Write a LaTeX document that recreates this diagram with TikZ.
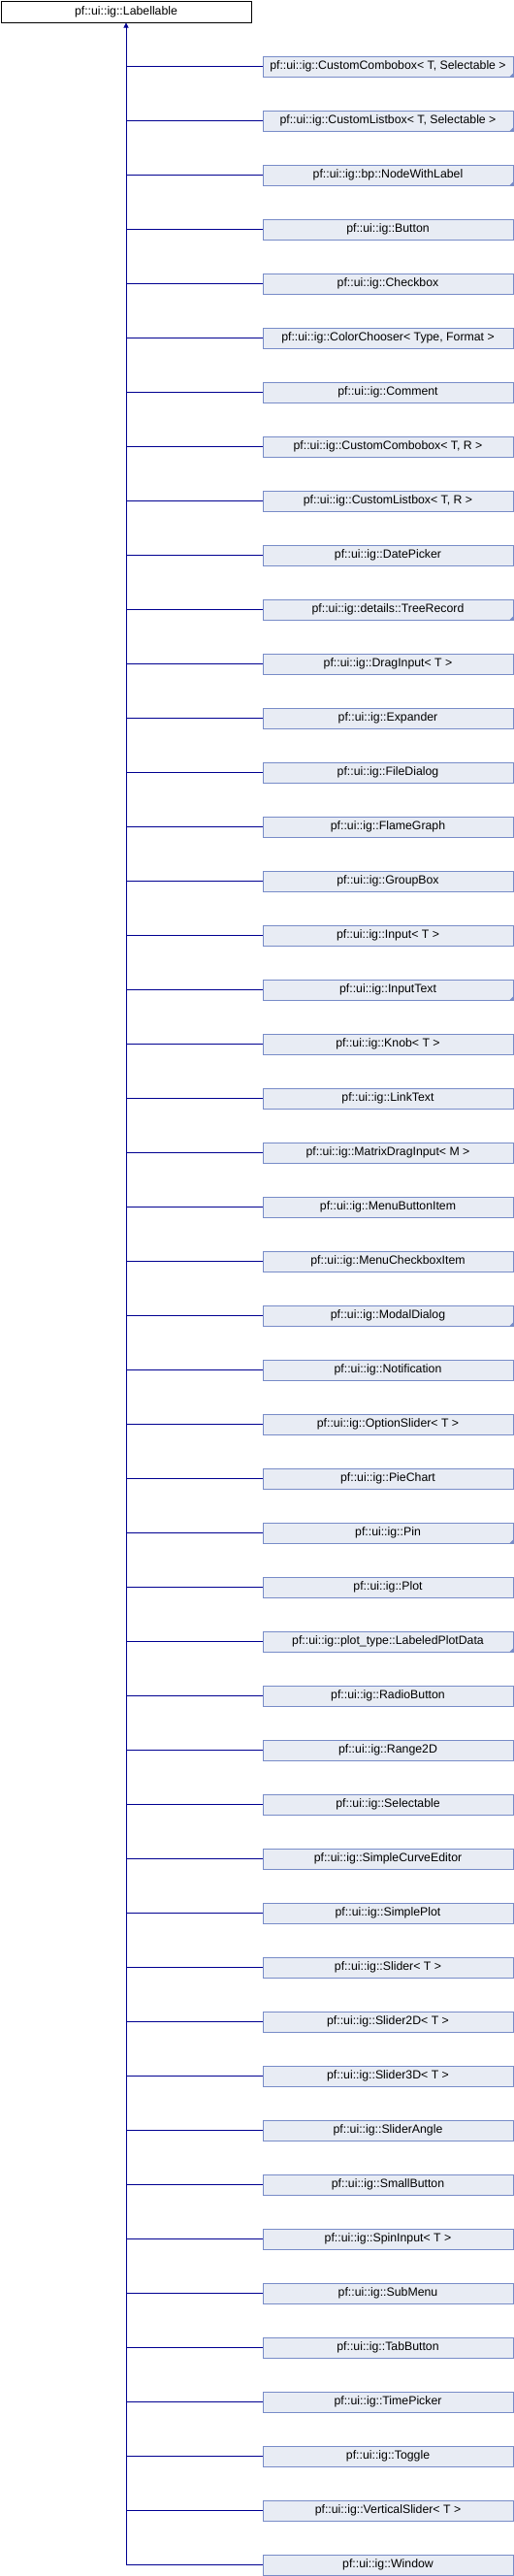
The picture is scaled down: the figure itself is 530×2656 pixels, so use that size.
\documentclass[tikz,border=0pt]{standalone}
\usepackage{fontspec}
\setmainfont{Liberation Sans}
\usetikzlibrary{arrows.meta,calc}
\definecolor{edgeblue}{RGB}{0,0,145}
\definecolor{boxfill}{RGB}{232,236,244}
\definecolor{boxdraw}{RGB}{120,140,200}
\begin{document}
\begin{tikzpicture}[x=1pt,y=-1pt,
  basebox/.style={draw=black, fill=white, line width=1pt, minimum width=258pt, minimum height=22pt, inner sep=0pt, font=\fontsize{12.3}{14}\selectfont, anchor=north west},
  childbox/.style={draw=boxdraw, fill=boxfill, line width=1pt, minimum width=258pt, minimum height=21pt, inner sep=0pt, font=\fontsize{12.3}{14}\selectfont, anchor=north west},
  edge/.style={draw=edgeblue, line width=1pt}]
\useasboundingbox (0,0) rectangle (530,2656);
\node[basebox] (base) at (0.5,0.5) {pf::ui::ig::Labellable};
\foreach \nm/\tri [count=\i from 0] in {
 {pf::ui::ig::CustomCombobox< T, Selectable >}/1,
 {pf::ui::ig::CustomListbox< T, Selectable >}/1,
 {pf::ui::ig::bp::NodeWithLabel}/1,
 {pf::ui::ig::Button}/0,
 {pf::ui::ig::Checkbox}/0,
 {pf::ui::ig::ColorChooser< Type, Format >}/0,
 {pf::ui::ig::Comment}/0,
 {pf::ui::ig::CustomCombobox< T, R >}/0,
 {pf::ui::ig::CustomListbox< T, R >}/0,
 {pf::ui::ig::DatePicker}/0,
 {pf::ui::ig::details::TreeRecord}/1,
 {pf::ui::ig::DragInput< T >}/0,
 {pf::ui::ig::Expander}/0,
 {pf::ui::ig::FileDialog}/0,
 {pf::ui::ig::FlameGraph}/0,
 {pf::ui::ig::GroupBox}/0,
 {pf::ui::ig::Input< T >}/0,
 {pf::ui::ig::InputText}/1,
 {pf::ui::ig::Knob< T >}/0,
 {pf::ui::ig::LinkText}/0,
 {pf::ui::ig::MatrixDragInput< M >}/0,
 {pf::ui::ig::MenuButtonItem}/0,
 {pf::ui::ig::MenuCheckboxItem}/0,
 {pf::ui::ig::ModalDialog}/1,
 {pf::ui::ig::Notification}/0,
 {pf::ui::ig::OptionSlider< T >}/0,
 {pf::ui::ig::PieChart}/0,
 {pf::ui::ig::Pin}/1,
 {pf::ui::ig::Plot}/0,
 {pf::ui::ig::plot\_type::LabeledPlotData}/1,
 {pf::ui::ig::RadioButton}/0,
 {pf::ui::ig::Range2D}/0,
 {pf::ui::ig::Selectable}/0,
 {pf::ui::ig::SimpleCurveEditor}/0,
 {pf::ui::ig::SimplePlot}/0,
 {pf::ui::ig::Slider< T >}/0,
 {pf::ui::ig::Slider2D< T >}/0,
 {pf::ui::ig::Slider3D< T >}/0,
 {pf::ui::ig::SliderAngle}/0,
 {pf::ui::ig::SmallButton}/0,
 {pf::ui::ig::SpinInput< T >}/0,
 {pf::ui::ig::SubMenu}/0,
 {pf::ui::ig::TabButton}/0,
 {pf::ui::ig::TimePicker}/0,
 {pf::ui::ig::Toggle}/0,
 {pf::ui::ig::VerticalSlider< T >}/0,
 {pf::ui::ig::Window}/0}
{
  \node[childbox] (c\i) at (270.5,57.5+56*\i) {\nm};
  \draw[edge] (c\i.west) -- (c\i.west -| base.south);
  \ifnum\tri=1
    \fill[boxdraw] ($(c\i.south east)+(-4.5,0)$) -- (c\i.south east) -- ($(c\i.south east)+(0,-4.5)$) -- cycle;
  \fi
}
\coordinate (trunkend) at (c46.west -| base.south);
\draw[edge, -{Triangle[width=5pt,length=5pt]}] (trunkend) -- (base.south);
\end{tikzpicture}
\end{document}
